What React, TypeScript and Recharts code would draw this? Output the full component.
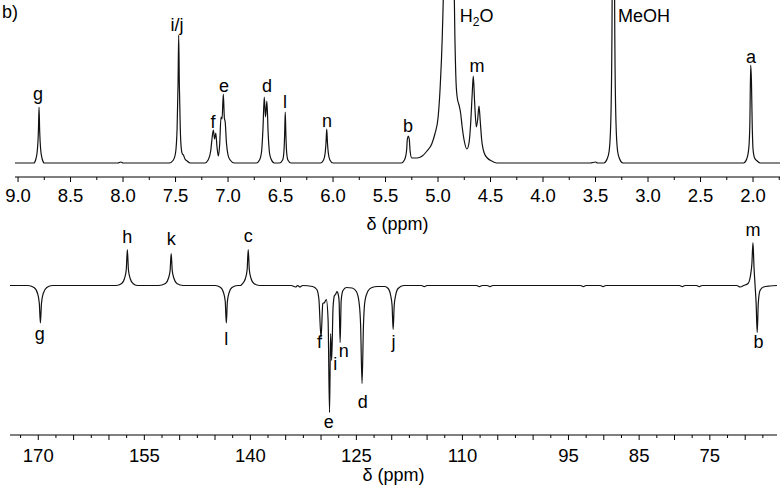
import React from 'react';
import { ComposedChart, Line, Scatter, XAxis, YAxis } from 'recharts';

// ---------- 1H spectrum (top) ----------
const H_PPM = [
  9.03, 8.85, 8.83, 8.815, 8.806, 8.8, 8.794, 8.785, 8.77, 8.75,
  8.05, 8.02, 8.0,
  7.56, 7.52, 7.5, 7.485, 7.476, 7.47, 7.464, 7.455, 7.445, 7.435, 7.425, 7.41, 7.39, 7.36,
  7.22, 7.19, 7.165, 7.152, 7.14, 7.128, 7.117, 7.105, 7.092, 7.08, 7.067, 7.057, 7.045, 7.035, 7.027, 7.015, 7.0, 6.98, 6.94,
  6.73, 6.7, 6.68, 6.667, 6.655, 6.643, 6.63, 6.618, 6.605, 6.59, 6.56,
  6.51, 6.48, 6.468, 6.461, 6.455, 6.449, 6.442, 6.43, 6.4,
  6.12, 6.09, 6.075, 6.067, 6.06, 6.053, 6.045, 6.03, 6.0,
  5.35, 5.32, 5.3, 5.292, 5.283, 5.274, 5.266, 5.25,
  5.2, 5.15, 5.105, 5.06, 5.03, 5.0, 4.98, 4.96, 4.94, 4.92, 4.895, 4.87, 4.855, 4.84, 4.828, 4.815, 4.8, 4.785, 4.77, 4.75, 4.725,
  4.705, 4.69, 4.675, 4.664, 4.652, 4.635, 4.622, 4.61, 4.598, 4.585, 4.56, 4.53, 4.49, 4.44,
  3.55, 3.5, 3.48,
  3.42, 3.39, 3.37, 3.355, 3.345, 3.338, 3.33, 3.322, 3.315, 3.305, 3.29, 3.27, 3.24,
  2.09, 2.06, 2.04, 2.03, 2.022, 2.015, 2.008, 2.0, 1.985, 1.96, 1.93, 1.743,
];
const H_INT = [
  0, 0, 4, 14, 32, 56, 32, 14, 4, 0,
  0, 1, 0,
  0, 3, 10, 35, 80, 128, 80, 35, 14, 9, 8, 4, 2, 0,
  0, 3, 12, 25, 33, 24, 30, 16, 7, 18, 46, 44, 69, 45, 41, 20, 8, 3, 0,
  0, 3, 12, 35, 66, 46, 62, 30, 10, 4, 0,
  0, 3, 11, 28, 51, 28, 11, 3, 0,
  0, 3, 10, 20, 34, 20, 10, 3, 0,
  0, 3, 12, 24, 27, 24, 12, 5,
  5, 7, 12, 19, 29, 45, 75, 125, 220, 420, 700, 420, 240, 130, 80, 64, 58, 50, 36, 22, 14,
  20, 38, 68, 87, 62, 36, 44, 57, 42, 24, 10, 5, 2, 0,
  0, 1, 0,
  0, 4, 12, 40, 110, 240, 800, 240, 110, 40, 12, 4, 0,
  0, 4, 15, 40, 98, 82, 40, 14, 5, 2, 0, 0,
];

const H_LABEL_TEXT = ['g', 'i/j', 'f', 'e', 'd', 'l', 'n', 'b', 'H2O', 'm', 'MeOH', 'a'];
const H_LABEL_PPM = [8.81, 7.486, 7.143, 7.038, 6.629, 6.457, 6.057, 5.286, 4.633, 4.629, 3.038, 2.019];
const H_LABEL_INT = [63.5, 132, 35, 71, 71, 55, 36, 31, 141, 91, 141, 100];

const TOP_MAJOR_TICKS = [9.0, 8.5, 8.0, 7.5, 7.0, 6.5, 6.0, 5.5, 5.0, 4.5, 4.0, 3.5, 3.0, 2.5, 2.0];
const TOP_MINOR_TICKS = [8.75, 8.25, 7.75, 7.25, 6.75, 6.25, 5.75, 5.25, 4.75, 4.25, 3.75, 3.25, 2.75, 2.25, 1.75];

// ---------- 13C DEPT spectrum (bottom) ----------
const C_PPM = [
  174, 171.5, 170.6, 170.1, 169.85, 169.7, 169.55, 169.3, 168.8, 168,
  159, 158.2, 157.8, 157.55, 157.4, 157.25, 157.0, 156.6, 156,
  153, 152, 151.6, 151.35, 151.2, 151.05, 150.8, 150.4, 149.5,
  145, 144.2, 143.8, 143.55, 143.4, 143.25, 143.0, 142.6, 141.8,
  141.4, 141.1, 140.7, 140.45, 140.3, 140.15, 139.9, 139.5, 138.7,
  134.2, 133.6, 133.3, 133.0, 132.6,
  131.2, 130.6, 130.3, 130.0, 129.75, 129.5, 129.25, 129.0, 128.8, 128.65, 128.5, 128.3, 128.1, 127.95, 127.75, 127.6, 127.45, 127.3, 127.15, 126.9, 126.4,
  125.6, 125.0, 124.6, 124.4, 124.2, 124.0, 123.8, 123.4, 122.8, 122.0,
  121.0, 120.5, 120.15, 119.95, 119.8, 119.65, 119.45, 119.1, 118.3,
  115.8, 115.4, 115.0, 108.0, 107.6, 107.2, 106.5, 106.1, 105.7,
  93.3, 92.9, 92.5, 90.5, 90.1, 89.7, 79.3, 78.9, 78.5, 76.9, 76.5, 76.1,
  71.2, 70.7, 70.2, 69.6, 69.25, 69.05, 68.9, 68.75, 68.6, 68.45, 68.3, 68.15, 67.9, 67.4, 66.5, 65.5,
];
const C_INT = [
  0, 0, -2, -8, -18, -37.5, -18, -8, -2, 0,
  0, 2, 7, 16, 36, 16, 7, 2, 0,
  0, 2, 7, 15, 32, 15, 7, 2, 0,
  0, -2, -7, -16, -37.5, -16, -7, -2, 0,
  0, 2, 7, 16, 36, 16, 7, 2, 0,
  0, -1.5, 0, -1.5, 0,
  -1, -4, -14, -52, -18, -17, -14, -35, -127, -48, -75, -22, -10, -9, -6, -8, -15, -57, -15, -5, -2,
  -2.5, -6, -18, -40, -98, -40, -16, -6, -2, -1,
  -1, -3, -10, -20, -44, -20, -10, -3, 0,
  0, -1.2, 0, 0, -1.2, 0, 0, -1.2, 0,
  0, -1.2, 0, 0, -1.2, 0, 0, -1.2, 0, 0, -1.2, 0,
  0, -1.5, 0, 2, 10, 22, 43, 18, 0, -18, -47, -18, -5, -1.5, -0.5, 0,
];

const C_LABEL_TEXT = ['g', 'h', 'k', 'l', 'c', 'f', 'e', 'i', 'n', 'd', 'j', 'm', 'b'];
const C_LABEL_PPM = [169.8, 157.4, 151.2, 143.4, 140.3, 130.2, 128.9, 128.0, 126.8, 124.1, 119.75, 68.9, 68.1];
const C_LABEL_INT = [-54, 42.5, 40.5, -59.5, 43.5, -62.5, -142.5, -84.5, -71.5, -122.5, -62.5, 49.5, -62.5];

const BOTTOM_MAJOR_TICKS = [170, 165, 160, 155, 150, 145, 140, 135, 130, 125, 120, 115, 110, 105, 100, 95, 90, 85, 80, 75, 70];
const BOTTOM_MINOR_TICKS = [172.5, 167.5, 162.5, 157.5, 152.5, 147.5, 142.5, 137.5, 132.5, 127.5, 122.5, 117.5, 112.5, 107.5, 102.5, 97.5, 92.5, 87.5, 82.5, 77.5, 72.5, 67.5];
const BOTTOM_TICK_LABELS = [170, 155, 140, 125, 110, 95, 85, 75];

// ---------- tables ----------
const topData = H_PPM.map((p, k) => ({ ppm: p, v: H_INT[k] }));
const topLabels = H_LABEL_TEXT.map((t, k) => ({ ppm: H_LABEL_PPM[k], v: H_LABEL_INT[k], text: t }));
const bottomData = C_PPM.map((p, k) => ({ ppm: p, v: C_INT[k] }));
const bottomLabels = C_LABEL_TEXT.map((t, k) => ({ ppm: C_LABEL_PPM[k], v: C_LABEL_INT[k], text: t }));

const FONT = '"Liberation Sans", Arial, Helvetica, sans-serif';

const LabelShape = (props: any) => {
  const { cx, cy, payload } = props;
  if (cx == null || cy == null) return null;
  const text: string = payload.text;
  if (text === 'H2O') {
    return (
      <text x={cx} y={cy} textAnchor="middle" fontSize={18} fill="#000" fontFamily={FONT}>
        <tspan>H</tspan>
        <tspan dy={4} fontSize={12}>2</tspan>
        <tspan dy={-4}>O</tspan>
      </text>
    );
  }
  return (
    <text x={cx} y={cy} textAnchor="middle" fontSize={18} fill="#000" fontFamily={FONT}>
      {text}
    </text>
  );
};

const TopTick = (props: any) => {
  const { x, y, payload } = props;
  const v = payload.value;
  const major = TOP_MAJOR_TICKS.includes(v);
  return (
    <g>
      <line x1={x} y1={y} x2={x} y2={y + (major ? 5 : 3)} stroke="#000" strokeWidth={1} />
      {major && (
        <text x={x} y={y + 25} textAnchor="middle" fontSize={18.5} fill="#000" fontFamily={FONT}>
          {v.toFixed(1)}
        </text>
      )}
    </g>
  );
};

const BottomTick = (props: any) => {
  const { x, y, payload } = props;
  const v = payload.value;
  const major = BOTTOM_MAJOR_TICKS.includes(v);
  const labelled = BOTTOM_TICK_LABELS.includes(v);
  return (
    <g>
      <line x1={x} y1={y} x2={x} y2={y + (major ? 5 : 3)} stroke="#000" strokeWidth={1} />
      {labelled && (
        <text x={x} y={y + 27} textAnchor="middle" fontSize={18.5} fill="#000" fontFamily={FONT}>
          {String(v)}
        </text>
      )}
    </g>
  );
};

export default function App() {
  return (
    <div
      style={{
        position: 'absolute',
        left: 0,
        top: 0,
        width: 784,
        height: 488,
        background: '#fff',
        fontFamily: FONT,
        overflow: 'hidden',
      }}
    >
      <div style={{ position: 'absolute', left: 0, top: 0 }}>
        <ComposedChart width={784} height={240} data={topData} margin={{ top: 0, right: 4, bottom: 0, left: 15 }}>
          <XAxis
            dataKey="ppm"
            type="number"
            domain={[1.743, 9.029]}
            reversed
            allowDataOverflow
            ticks={[...TOP_MAJOR_TICKS, ...TOP_MINOR_TICKS]}
            interval={0}
            tick={<TopTick />}
            tickLine={false}
            tickSize={0}
            tickMargin={0}
            axisLine={{ stroke: '#000', strokeWidth: 1 }}
            height={63}
            label={{ value: 'δ (ppm)', position: 'insideBottom', offset: 10, fontSize: 18, fill: '#000' }}
          />
          <YAxis hide type="number" domain={[-14, 163]} allowDataOverflow />
          <Line dataKey="v" type="monotone" stroke="#111" strokeWidth={1.2} dot={false} isAnimationActive={false} />
          <Scatter data={topLabels} dataKey="v" shape={(p: any) => <LabelShape {...p} />} isAnimationActive={false} />
        </ComposedChart>
      </div>
      <div style={{ position: 'absolute', left: 0, top: 220 }}>
        <ComposedChart width={784} height={268} data={bottomData} margin={{ top: 2, right: 7, bottom: 0, left: 10 }}>
          <XAxis
            dataKey="ppm"
            type="number"
            domain={[65.5, 174]}
            reversed
            allowDataOverflow
            ticks={[...BOTTOM_MAJOR_TICKS, ...BOTTOM_MINOR_TICKS]}
            interval={0}
            tick={<BottomTick />}
            tickLine={false}
            tickSize={0}
            tickMargin={0}
            axisLine={{ stroke: '#000', strokeWidth: 1 }}
            height={53}
            label={{ value: 'δ (ppm)', position: 'insideBottom', offset: 7, fontSize: 18, fill: '#000' }}
          />
          <YAxis hide type="number" domain={[-149.5, 63.5]} allowDataOverflow />
          <Line dataKey="v" type="monotone" stroke="#111" strokeWidth={1.2} dot={false} isAnimationActive={false} />
          <Scatter data={bottomLabels} dataKey="v" shape={(p: any) => <LabelShape {...p} />} isAnimationActive={false} />
        </ComposedChart>
      </div>
      <div style={{ position: 'absolute', left: 2, top: 3, fontSize: 18, lineHeight: '18px', color: '#000' }}>b)</div>
    </div>
  );
}
